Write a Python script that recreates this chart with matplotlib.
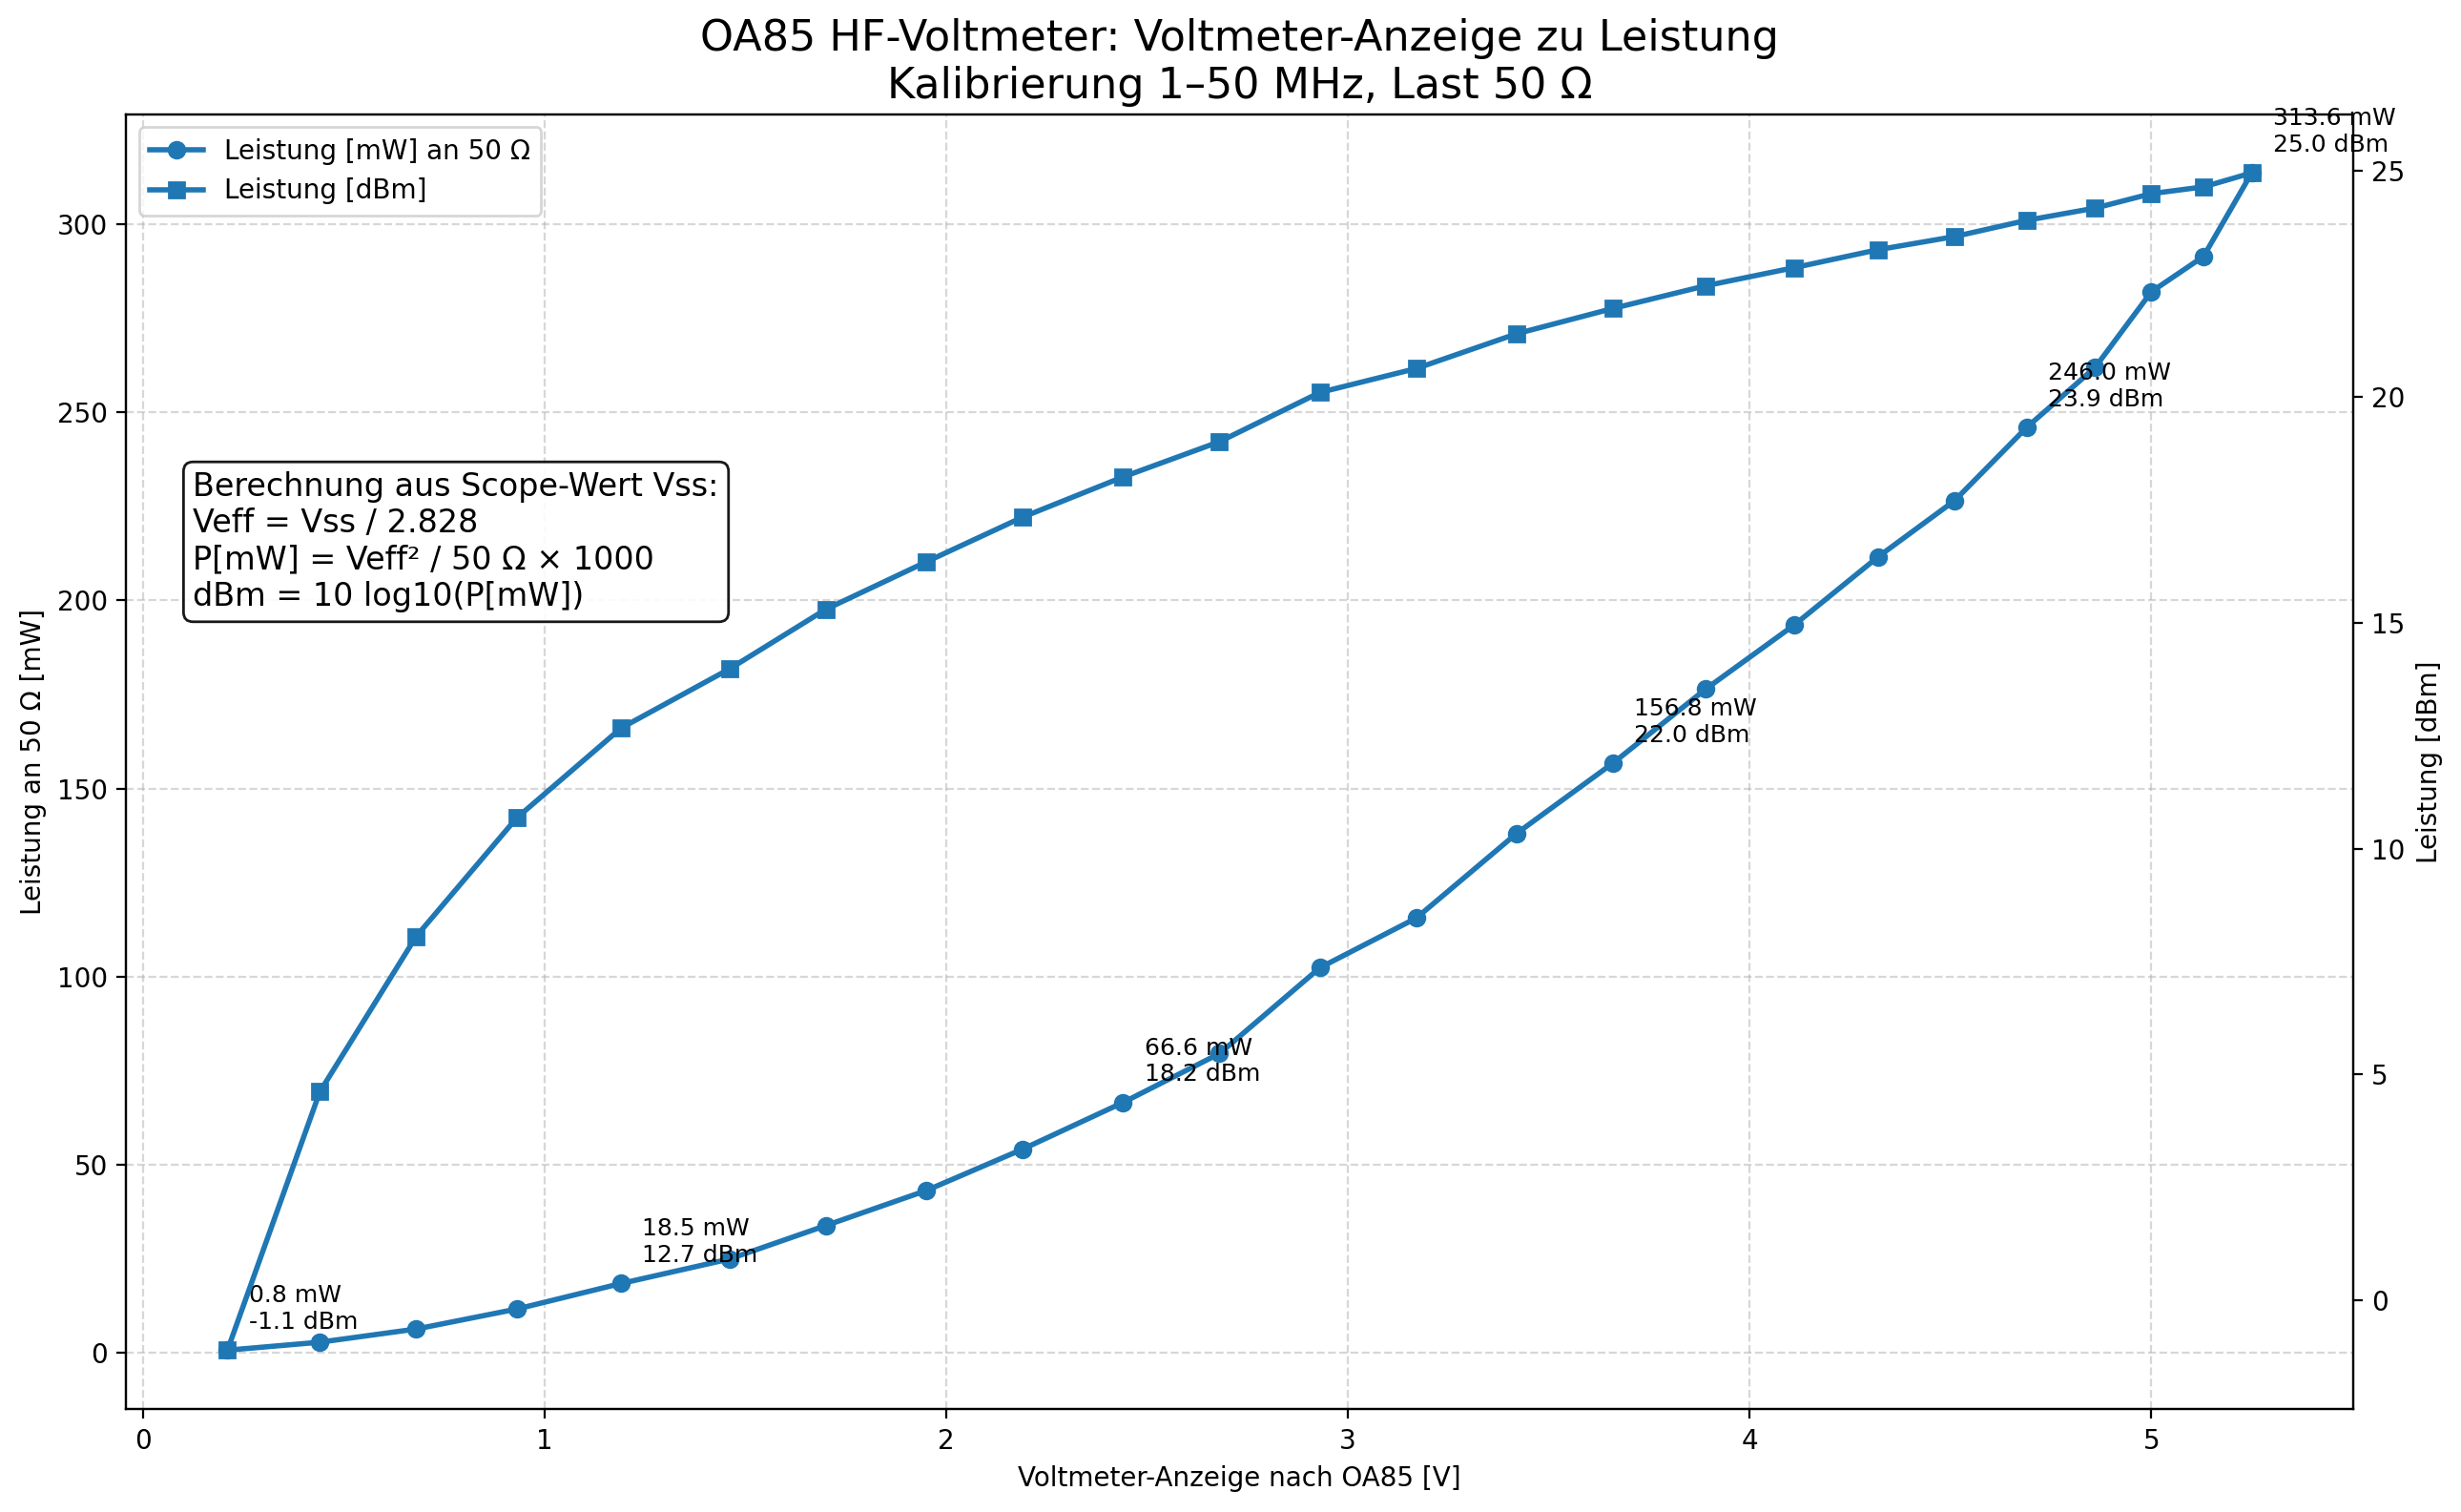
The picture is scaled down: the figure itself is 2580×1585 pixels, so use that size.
import matplotlib
matplotlib.use("Agg")
import matplotlib.pyplot as plt

# Voltmeter-Anzeige nach OA85 [V]
volt = [0.21, 0.44, 0.68, 0.93, 1.19, 1.46, 1.70, 1.95, 2.19, 2.44, 2.68, 2.93,
        3.17, 3.42, 3.66, 3.89, 4.11, 4.32, 4.51, 4.69, 4.86, 5.00, 5.13, 5.25]
# Leistung an 50 Ohm [mW]
p_mw = [0.78, 2.9, 6.4, 11.7, 18.5, 25.0, 33.9, 43.2, 54.2, 66.6, 79.6, 102.4,
        115.6, 138.1, 156.8, 176.4, 193.4, 211.6, 226.5, 246.0, 261.9, 282.0, 291.4, 313.6]
# Leistung [dBm]
p_dbm = [-1.10, 4.62, 8.06, 10.68, 12.67, 13.98, 15.30, 16.35, 17.34, 18.23, 19.01, 20.10,
         20.63, 21.40, 21.96, 22.46, 22.86, 23.26, 23.55, 23.91, 24.18, 24.50, 24.65, 24.96]
# annotated points
ann_idx = [0, 4, 9, 14, 19, 23]

info_text = ("Berechnung aus Scope-Wert Vss:\n"
             "Veff = Vss / 2.828\n"
             "P[mW] = Veff² / 50 Ω × 1000\n"
             "dBm = 10 log10(P[mW])")

fig = plt.figure(figsize=(12.9, 7.925), dpi=200)
ax = fig.add_axes([0.0513, 0.0681, 0.9048, 0.8565])
ax2 = ax.twinx()

l1, = ax.plot(volt, p_mw, marker="o", linewidth=2, color="tab:blue",
              label="Leistung [mW] an 50 Ω")
l2, = ax2.plot(volt, p_dbm, marker="s", linewidth=2, color="tab:blue",
               label="Leistung [dBm]")

for i in ann_idx:
    ax.annotate(f"{p_mw[i]:.1f} mW\n{p_dbm[i]:.1f} dBm",
                xy=(volt[i], p_mw[i]), xytext=(8, 8),
                textcoords="offset points", fontsize=9)

ax.set_xlabel("Voltmeter-Anzeige nach OA85 [V]")
ax.set_ylabel("Leistung an 50 Ω [mW]")
ax2.set_ylabel("Leistung [dBm]")
ax.set_title("OA85 HF-Voltmeter: Voltmeter-Anzeige zu Leistung\n"
             "Kalibrierung 1–50 MHz, Last 50 Ω", fontsize=16)
ax.grid(True, linestyle="--", alpha=0.5)

ax.legend(handles=[l1, l2], loc="upper left")

ax.text(0.03, 0.724, info_text, transform=ax.transAxes, fontsize=12, va="top",
        bbox=dict(boxstyle="round,pad=0.3", facecolor="white", alpha=0.9))

fig.savefig("out.png", dpi=200)
